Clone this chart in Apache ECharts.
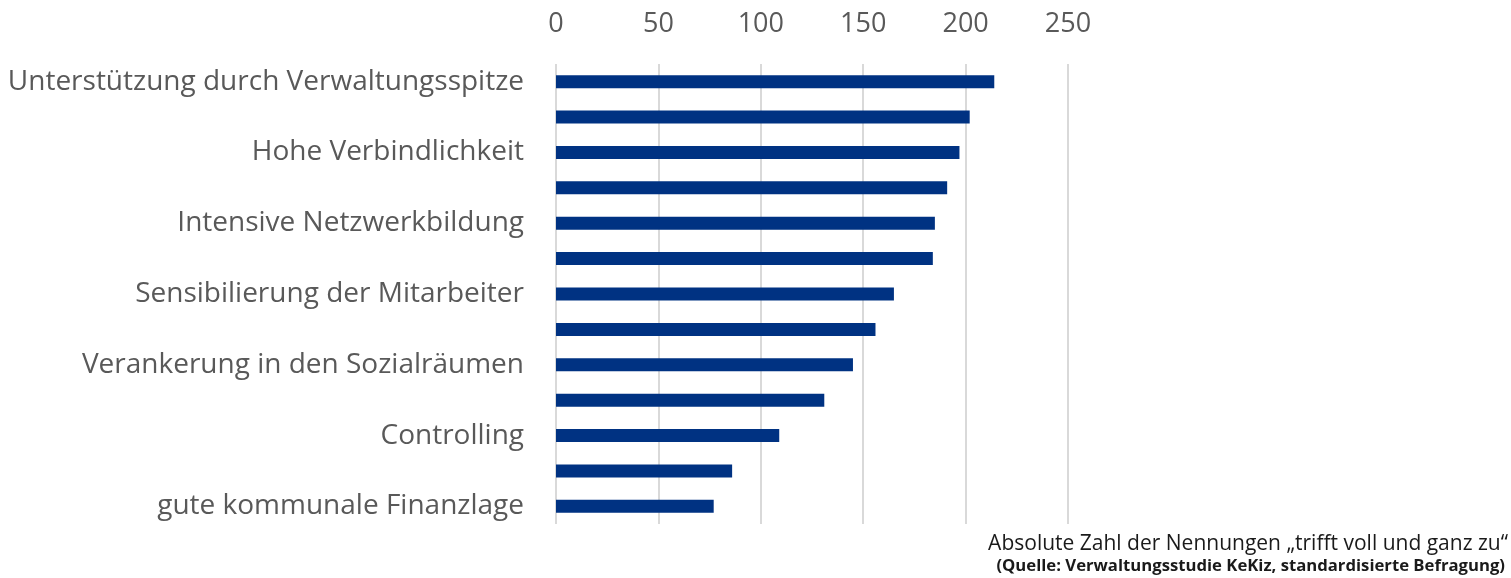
<!DOCTYPE html>
<html>
<head>
<meta charset="utf-8">
<script src="https://cdn.jsdelivr.net/npm/echarts@6/dist/echarts.min.js"></script>
<style>
  html, body { margin: 0; padding: 0; background: #fff; }
  #chart { width: 1511px; height: 578px; }
</style>
</head>
<body>
<div id="chart"></div>
<script>
// Categories from top to bottom; only every other bar carries a label
const categories = [
  'Unterstützung durch Verwaltungsspitze', '',
  'Hohe Verbindlichkeit', '',
  'Intensive Netzwerkbildung', '',
  'Sensibilierung der Mitarbeiter', '',
  'Verankerung in den Sozialräumen', '',
  'Controlling', '',
  'gute kommunale Finanzlage'
];
const nennungen = [214, 202, 197, 191, 185, 184, 165, 156, 145, 131, 109, 86, 77];
const tickValues = [0, 50, 100, 150, 200, 250];
const axisNote = 'Absolute Zahl der Nennungen „trifft voll und ganz zu“';
const sourceNote = '(Quelle: Verwaltungsstudie KeKiz, standardisierte Befragung)';

const chart = echarts.init(document.getElementById('chart'));
chart.setOption({
  animation: false,
  backgroundColor: '#ffffff',
  textStyle: { fontFamily: 'Open Sans' },
  grid: { left: 556, right: 443, top: 64, bottom: 54 },
  xAxis: {
    type: 'value',
    position: 'top',
    min: tickValues[0],
    max: tickValues[tickValues.length - 1],
    interval: 50,
    axisLine: { show: false },
    axisTick: { show: false },
    axisLabel: { color: '#595959', fontSize: 27, margin: 26, fontFamily: 'Open Sans' },
    splitLine: { show: true, lineStyle: { color: '#d9d9d9', width: 2 } }
  },
  yAxis: {
    type: 'category',
    inverse: true,
    data: categories,
    axisLine: { show: false },
    axisTick: { show: false },
    axisLabel: { color: '#595959', fontSize: 28, margin: 32, interval: 0, fontFamily: 'Open Sans' }
  },
  series: [{
    type: 'bar',
    data: nennungen,
    barWidth: 13,
    itemStyle: { color: '#003282' }
  }],
  graphic: [
    {
      type: 'text', right: 3, top: 534,
      style: { text: axisNote, fill: '#1a1a1a', font: '21px "Open Sans"', textAlign: 'right' }
    },
    {
      type: 'text', right: 6, top: 558,
      style: { text: sourceNote, fill: '#1a1a1a', font: 'bold 16.7px "Open Sans"', textAlign: 'right' }
    }
  ]
});
</script>
</body>
</html>
